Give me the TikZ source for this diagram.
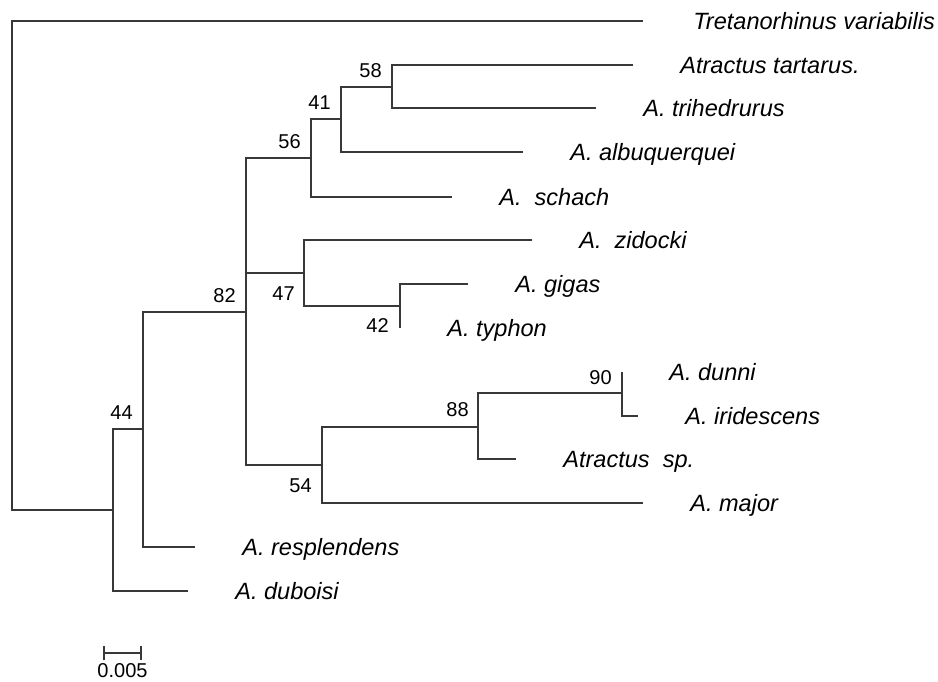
\documentclass[tikz,border=0pt]{standalone}
\usepackage{fontspec}
\setmainfont{Liberation Sans}
\usetikzlibrary{positioning,arrows.meta}
\tikzset{
  branch/.style={line width=1.15pt, draw=black!78},
  taxon/.style={font=\fontsize{13.4}{16}\selectfont\itshape, inner sep=0pt,
    text height=0.34cm, text depth=0pt},
  boot/.style={font=\fontsize{11.4}{13}\selectfont, inner sep=0pt}
}
\begin{document}
\begin{tikzpicture}[x=0.02cm, y=-0.02cm]
    \useasboundingbox (0,0) rectangle (938,682);

    % Define the internal nodes of the tree
    \coordinate (root) at (12,265);
    \coordinate (base) at (113,510);
    \coordinate (n44) at (143,429);
    \coordinate (n82) at (246,312);
    \coordinate (n56) at (311,158);
    \coordinate (n41) at (341,119);
    \coordinate (n58) at (392,87);
    \coordinate (n47) at (304,273);
    \coordinate (n42) at (400,306);
    \coordinate (n54) at (322,465);
    \coordinate (n88) at (478,427);
    \coordinate (n90) at (622,393);

    % Define the tips
    \coordinate (tret) at (643,21);
    \coordinate (tart) at (633,65);
    \coordinate (trih) at (596,108);
    \coordinate (albu) at (523,152);
    \coordinate (scha) at (452,197);
    \coordinate (zido) at (532,240);
    \coordinate (giga) at (468,284);
    \coordinate (typh) at (400,328);
    \coordinate (dunn) at (622,372);
    \coordinate (irid) at (638,416);
    \coordinate (atsp) at (516,459);
    \coordinate (majo) at (643,503);
    \coordinate (resp) at (195,547);
    \coordinate (dubo) at (188,591);

    % Draw the branches
    \draw[branch] (root) |- (tret);
    \draw[branch] (root) |- (base);
    \draw[branch] (base) |- (n44);
    \draw[branch] (base) |- (dubo);
    \draw[branch] (n44) |- (n82);
    \draw[branch] (n44) |- (resp);
    \draw[branch] (n82) |- (n56);
    \draw[branch] (n82) |- (n47);
    \draw[branch] (n82) |- (n54);
    \draw[branch] (n56) |- (n41);
    \draw[branch] (n56) |- (scha);
    \draw[branch] (n41) |- (n58);
    \draw[branch] (n41) |- (albu);
    \draw[branch] (n58) |- (tart);
    \draw[branch] (n58) |- (trih);
    \draw[branch] (n47) |- (zido);
    \draw[branch] (n47) |- (n42);
    \draw[branch] (n42) |- (giga);
    \draw[branch] (n42) |- (typh);
    \draw[branch] (n54) |- (n88);
    \draw[branch] (n54) |- (majo);
    \draw[branch] (n88) |- (n90);
    \draw[branch] (n88) |- (atsp);
    \draw[branch] (n90) |- (dunn);
    \draw[branch] (n90) |- (irid);

    % Taxon names
    \node[taxon, right=1.0cm of tret] (lTret) {Tretanorhinus variabilis};
    \node[taxon, right=0.94cm of tart] (lTart) {Atractus tartarus.};
    \node[taxon, right=0.94cm of trih] (lTrih) {A. trihedrurus};
    \node[taxon, right=0.94cm of albu] (lAlbu) {A. albuquerquei};
    \node[taxon, right=0.94cm of scha] (lScha) {A.\ \ schach};
    \node[taxon, right=0.94cm of zido] (lZido) {A.\ \ zidocki};
    \node[taxon, right=0.94cm of giga] (lGiga) {A. gigas};
    \node[taxon, right=0.94cm of typh] (lTyph) {A. typhon};
    \node[taxon, right=0.94cm of dunn] (lDunn) {A. dunni};
    \node[taxon, right=0.94cm of irid] (lIrid) {A. iridescens};
    \node[taxon, right=0.94cm of atsp] (lAtsp) {Atractus\ \ sp.};
    \node[taxon, right=0.94cm of majo] (lMajo) {A. major};
    \node[taxon, right=0.94cm of resp] (lResp) {A. resplendens};
    \node[taxon, right=0.94cm of dubo] (lDubo) {A. duboisi};

    % Bootstrap values
    \node[boot, above left=0.18cm and 0.2cm of n58] (b58) {58};
    \node[boot, above left=0.18cm and 0.2cm of n41] (b41) {41};
    \node[boot, above left=0.18cm and 0.2cm of n56] (b56) {56};
    \node[boot, above left=0.18cm and 0.2cm of n82] (b82) {82};
    \node[boot, above left=0.18cm and 0.2cm of n44] (b44) {44};
    \node[boot, above left=0.19cm and 0.18cm of n88] (b88) {88};
    \node[boot, above left=0.16cm and 0.2cm of n90] (b90) {90};
    \node[boot, below left=0.27cm and 0.18cm of n47] (b47) {47};
    \node[boot, below left=0.24cm and 0.22cm of n42] (b42) {42};
    \node[boot, below left=0.26cm and 0.2cm of n54] (b54) {54};

    % Scale bar
    \coordinate (sbL) at (103,653);
    \coordinate (sbR) at (142,653);
    \coordinate (sbM) at (122.5,653);
    \draw[branch, {Bar[width=0.3cm]}-{Bar[width=0.3cm]}] (sbL) -- (sbR);
    \node[boot, below=0.2cm of sbM] (sbText) {0.005};
\end{tikzpicture}
\end{document}
